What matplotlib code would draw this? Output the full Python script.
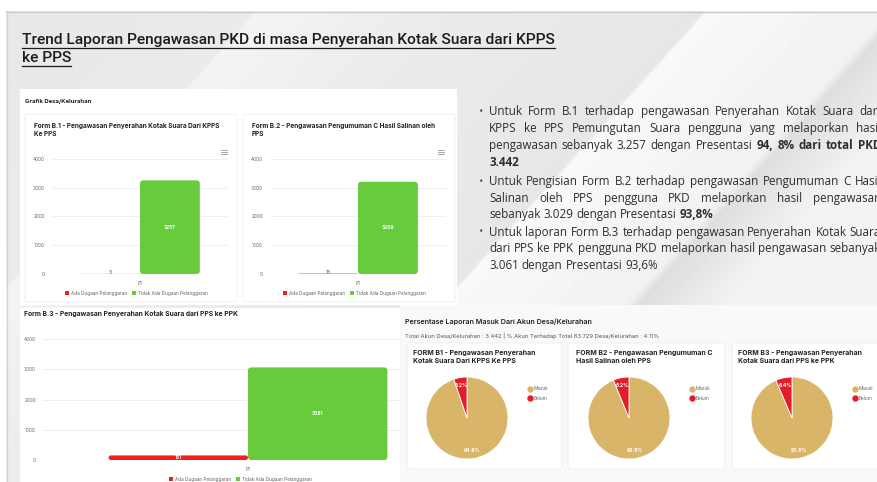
import numpy as np
import matplotlib
matplotlib.use("Agg")
import matplotlib.pyplot as plt
from matplotlib.patches import Rectangle, FancyBboxPatch
from matplotlib.lines import Line2D

W, H = 877, 482

# ---------------- data ----------------
status_labels = ["Ada Dugaan Pelanggaran", "Tidak Ada Dugaan Pelanggaran"]
category = "P1"
b1_values = [3, 3257]
b2_values = [13, 3209]
b3_values = [151, 3061]
y_ticks = [0, 1000, 2000, 3000, 4000]

pie_labels = ["Masuk", "Belum"]
pie_b1 = [94.8, 5.2]
pie_b2 = [93.8, 6.2]
pie_b3 = [93.6, 6.4]

chart_titles = [
    "Form B.1 - Pengawasan Penyerahan Kotak Suara Dari KPPS\nKe PPS",
    "Form B.2 - Pengawasan Pengumuman C Hasil Salinan oleh\nPPS",
    "Form B.3 - Pengawasan Penyerahan Kotak Suara dari PPS ke PPK",
]
pie_titles = [
    "FORM B1 - Pengawasan Penyerahan\nKotak Suara Dari KPPS Ke PPS",
    "FORM B2 - Pengawasan Pengumuman C\nHasil Salinan oleh PPS",
    "FORM B3 - Pengawasan Penyerahan\nKotak Suara dari PPS ke PPK",
]

RED = "#f21d1d"
GREEN = "#67cb3b"
TAN = "#d9b56a"
PIE_RED = "#e31e28"
DARK = "#222222"

fig = plt.figure(figsize=(W / 100, H / 100), dpi=100)
ax0 = fig.add_axes([0, 0, 1, 1])
ax0.set_xlim(0, W)
ax0.set_ylim(H, 0)
ax0.axis("off")


def px_rect(x0, y0, x1, y1):
    return [x0 / W, 1 - y1 / H, (x1 - x0) / W, (y1 - y0) / H]


# ---------------- slide background ----------------
yy, xx = np.mgrid[0:H, 0:W]
u = xx + 0.9 * yy
knots = [0, 264, 267, 400, 412, 713, 717, 900, 912, 1000, 1400]
vals = [0.905, 0.92, 0.955, 0.93, 0.925, 0.905, 0.975, 0.945, 0.87, 0.95, 0.965]
bg = np.interp(u, knots, vals)
ax0.imshow(bg, cmap="gray", vmin=0, vmax=1, extent=(0, W, H, 0),
           interpolation="bilinear", aspect="auto", zorder=0)
ax0.set_xlim(0, W)
ax0.set_ylim(H, 0)
ax0.add_patch(Rectangle((0, 0), W, 11, fc="white", ec="none", zorder=1))
ax0.add_patch(Rectangle((0, 0), 6, H, fc="white", ec="none", zorder=1))
ax0.plot([6, W], [11.5, 11.5], color="#cccccc", lw=1, zorder=2)
ax0.plot([6.5, 6.5], [11, H], color="#d5d5d5", lw=1, zorder=2)

# ---------------- title ----------------
title_lines = ["Trend Laporan Pengawasan PKD di masa Penyerahan Kotak Suara dari KPPS", "ke PPS"]
renderer = fig.canvas.get_renderer()
for i, line in enumerate(title_lines):
    y = 40 + i * 18.5
    t = ax0.text(22, y, line, fontsize=11.15, family="Roboto", fontweight="medium",
                 color="#1c1c1c", va="center", ha="left", zorder=5)
    wpx = t.get_window_extent(renderer).width
    ax0.plot([22, 22 + wpx], [y + 7.5, y + 7.5], color="#1c1c1c", lw=0.9, zorder=5)

# ---------------- panels ----------------
ax0.add_patch(Rectangle((20, 89), 437, 216, fc="white", ec="none", zorder=3))
for (cx0, cx1) in [(25, 237), (243, 455)]:
    ax0.add_patch(FancyBboxPatch((cx0, 114), cx1 - cx0, 188,
                                 boxstyle="round,pad=0,rounding_size=3",
                                 fc="white", ec="#ededed", lw=0.6, zorder=3))
ax0.text(25, 101, "Grafik Desa/Kelurahan", fontsize=4.3, family="Inter",
         fontweight="bold", color=DARK, va="center", zorder=6)

ax0.add_patch(Rectangle((20, 308), 380, H - 308, fc="white", ec="none", zorder=3))
ax0.add_patch(Rectangle((400, 305), W - 400, H - 305, fc="#f9f9f9", ec="none", zorder=3))
for (cx0, cx1) in [(407, 562), (568, 725), (732, 890)]:
    ax0.add_patch(FancyBboxPatch((cx0, 343), cx1 - cx0, 126,
                                 boxstyle="round,pad=0,rounding_size=3",
                                 fc="white", ec="#ececec", lw=0.6, zorder=3))

ax0.text(405, 322, "Persentase Laporan Masuk Dari Akun Desa/Kelurahan", fontsize=5.2,
         family="Inter", fontweight="semibold", color=DARK, va="center", zorder=6)
ax0.text(405, 336, "Total Akun Desa/Kelurahan : 3.442 | % Akun Terhadap Total 83.729 "
         "Desa/Kelurahan : 4.11%", fontsize=4.2, family="Inter", color="#555555",
         va="center", zorder=6)


# ---------------- bar charts ----------------
def round_bars(ax, bars, box_px, xlim, r_px=3.0):
    xupp = (xlim[1] - xlim[0]) / (box_px[2] - box_px[0])
    yupp = 4000 / (box_px[3] - box_px[1])
    for b in bars:
        x, y, w, h = b.get_x(), b.get_y(), b.get_width(), b.get_height()
        rs = min(r_px, h / yupp / 2, w / xupp / 2) * xupp
        p = FancyBboxPatch((x, y), w, h, boxstyle=f"round,pad=0,rounding_size={rs}",
                           mutation_aspect=yupp / xupp, fc=b.get_facecolor(),
                           ec="none", zorder=3)
        b.set_visible(False)
        ax.add_patch(p)


def bar_chart(box_px, values, xlim, title, title_xy, legend_xy, title_fs, fs=3.4):
    ax = fig.add_axes(px_rect(*box_px))
    ax.patch.set_alpha(0)
    ax.set_xlim(*xlim)
    ax.set_ylim(0, 4000)
    w = 0.34
    bars = ax.bar([-w / 2, w / 2], values, width=w, color=[RED, GREEN], zorder=3)
    round_bars(ax, bars, box_px, xlim)
    ax.set_yticks(y_ticks)
    ax.set_yticklabels([str(v) for v in y_ticks], fontsize=fs, color="#666666",
                       family="Inter")
    ax.set_xticks([0])
    ax.set_xticklabels([category], fontsize=fs, color="#666666", family="Inter")
    ax.tick_params(length=0, pad=5)
    ax.grid(axis="y", color="#ececec", lw=0.6)
    ax.set_axisbelow(True)
    for s in ax.spines.values():
        s.set_visible(False)
    for b, v in zip(bars, values):
        cx = b.get_x() + b.get_width() / 2
        inside = v > 100
        ax.text(cx, v / 2 if inside else 45, str(v), fontsize=fs,
                color="white" if inside else "#888888", fontweight="bold",
                ha="center", va="center", family="Inter", zorder=5)
    ax0.text(title_xy[0], title_xy[1], title, fontsize=title_fs, family="Inter",
             fontweight="bold", color=DARK, va="top", ha="left",
             linespacing=1.4, zorder=6)
    handles = [Rectangle((0, 0), 1, 1, fc=RED), Rectangle((0, 0), 1, 1, fc=GREEN)]
    fig.legend(handles, status_labels, loc="center",
               bbox_to_anchor=(legend_xy[0] / W, 1 - legend_xy[1] / H),
               ncol=2, frameon=False, handlelength=0.9,
               handleheight=0.9, handletextpad=0.4, columnspacing=1.0,
               labelcolor="#666666", prop={"family": "Inter", "size": fs})
    return ax


bar_chart((52, 159, 228, 274), b1_values, (-0.5, 0.5), chart_titles[0], (34, 123),
          (136, 293), 4.7)
bar_chart((270, 159, 446, 274), b2_values, (-0.5, 0.5), chart_titles[1], (252, 123),
          (354, 293), 4.7)
bar_chart((43, 339, 400, 460), b3_values, (-0.5, -0.5 + 357 / 410), chart_titles[2],
          (24, 311), (240, 479), 4.85)

# hamburger menu icons
for hx in (224, 441):
    for dy in (-1.6, 0, 1.6):
        ax0.plot([hx - 3, hx + 3], [152 + dy, 152 + dy], color="#9a9a9a", lw=0.6, zorder=6)


# ---------------- pies ----------------
def pie_chart(center, values, title, title_xy, legend_x, R=41):
    cx, cy = center
    ax = fig.add_axes(px_rect(cx - R, cy - R, cx + R, cy + R))
    ax.pie(values, colors=[TAN, PIE_RED], startangle=90, counterclock=False,
           autopct="%.1f%%", pctdistance=0.8, radius=1,
           wedgeprops=dict(edgecolor="white", linewidth=0.6),
           textprops=dict(color="white", fontsize=3.6, fontweight="bold",
                          family="Inter"))
    ax.set_xlim(-1, 1)
    ax.set_ylim(-1, 1)
    ax.set_aspect("equal")
    ax0.text(title_xy[0], title_xy[1], title, fontsize=5.0, family="Inter",
             fontweight="bold", color=DARK, va="top", ha="left",
             linespacing=1.35, zorder=6)
    handles = [Line2D([], [], marker="o", ls="", color=TAN, markersize=3.6),
               Line2D([], [], marker="o", ls="", color=PIE_RED, markersize=3.6)]
    fig.legend(handles, pie_labels, loc="upper left",
               bbox_to_anchor=((legend_x - 4) / W, 1 - 382 / H),
               frameon=False, handlelength=0.6, handletextpad=0.6,
               labelspacing=0.9, labelcolor="#666666",
               prop={"family": "Inter", "size": 3.4})


pie_chart((467, 418), pie_b1, pie_titles[0], (413, 350), 528)
pie_chart((629, 418), pie_b2, pie_titles[1], (576, 350), 690)
pie_chart((792, 418), pie_b3, pie_titles[2], (738, 350), 853)

# ---------------- narrative bullets ----------------
FS = 8.4
TXT = "#2e2e2e"
BASE_DY = 4.0  # baseline sits this many pixels below the line's visual centre


def text_line(x0, y, segments, x1=None):
    words = []
    for seg, bold in segments:
        for wd in seg.split():
            words.append((wd, bold))
    arts = []
    for wd, bold in words:
        arts.append(ax0.text(0, y + BASE_DY, wd, fontsize=FS, family="Open Sans",
                             fontweight="bold" if bold else "normal",
                             color=TXT, va="baseline", ha="left", zorder=6))
    widths = [a.get_window_extent(renderer).width for a in arts]
    natural = FS * 100 / 72 * 0.26
    if x1 is not None and len(arts) > 1:
        gap = (x1 - x0 - sum(widths)) / (len(arts) - 1)
    else:
        gap = natural
    x = x0
    for a, wd in zip(arts, widths):
        a.set_x(x)
        x += wd + gap


X0, X1 = 489, 881
paragraphs = [
    [
        ([("Untuk Form B.1 terhadap pengawasan Penyerahan Kotak Suara dari", False)], True),
        ([("KPPS ke PPS Pemungutan Suara pengguna yang melaporkan hasil", False)], True),
        ([("pengawasan sebanyak 3.257 dengan Presentasi", False),
          ("94, 8% dari total PKD", True)], True),
        ([("3.442", True)], False),
    ],
    [
        ([("Untuk Pengisian Form B.2 terhadap pengawasan Pengumuman C Hasil", False)], True),
        ([("Salinan oleh PPS pengguna PKD melaporkan hasil pengawasan", False)], True),
        ([("sebanyak 3.029 dengan Presentasi", False), ("93,8%", True)], False),
    ],
    [
        ([("Untuk laporan Form B.3 terhadap pengawasan Penyerahan Kotak Suara", False)], True),
        ([("dari PPS ke PPK pengguna PKD melaporkan hasil pengawasan sebanyak", False)], True),
        ([("3.061 dengan Presentasi 93,6%", False)], False),
    ],
]
line_y = [111, 128, 145, 162, 181, 198, 214, 232, 248, 265]
k = 0
for para in paragraphs:
    ax0.text(481, line_y[k], "•", fontsize=5.5, color="#555555", va="center",
             ha="center", family="DejaVu Sans", zorder=6)
    for segs, justify in para:
        text_line(X0, line_y[k], segs, X1 if justify else None)
        k += 1

fig.savefig("out.png", dpi=100)
